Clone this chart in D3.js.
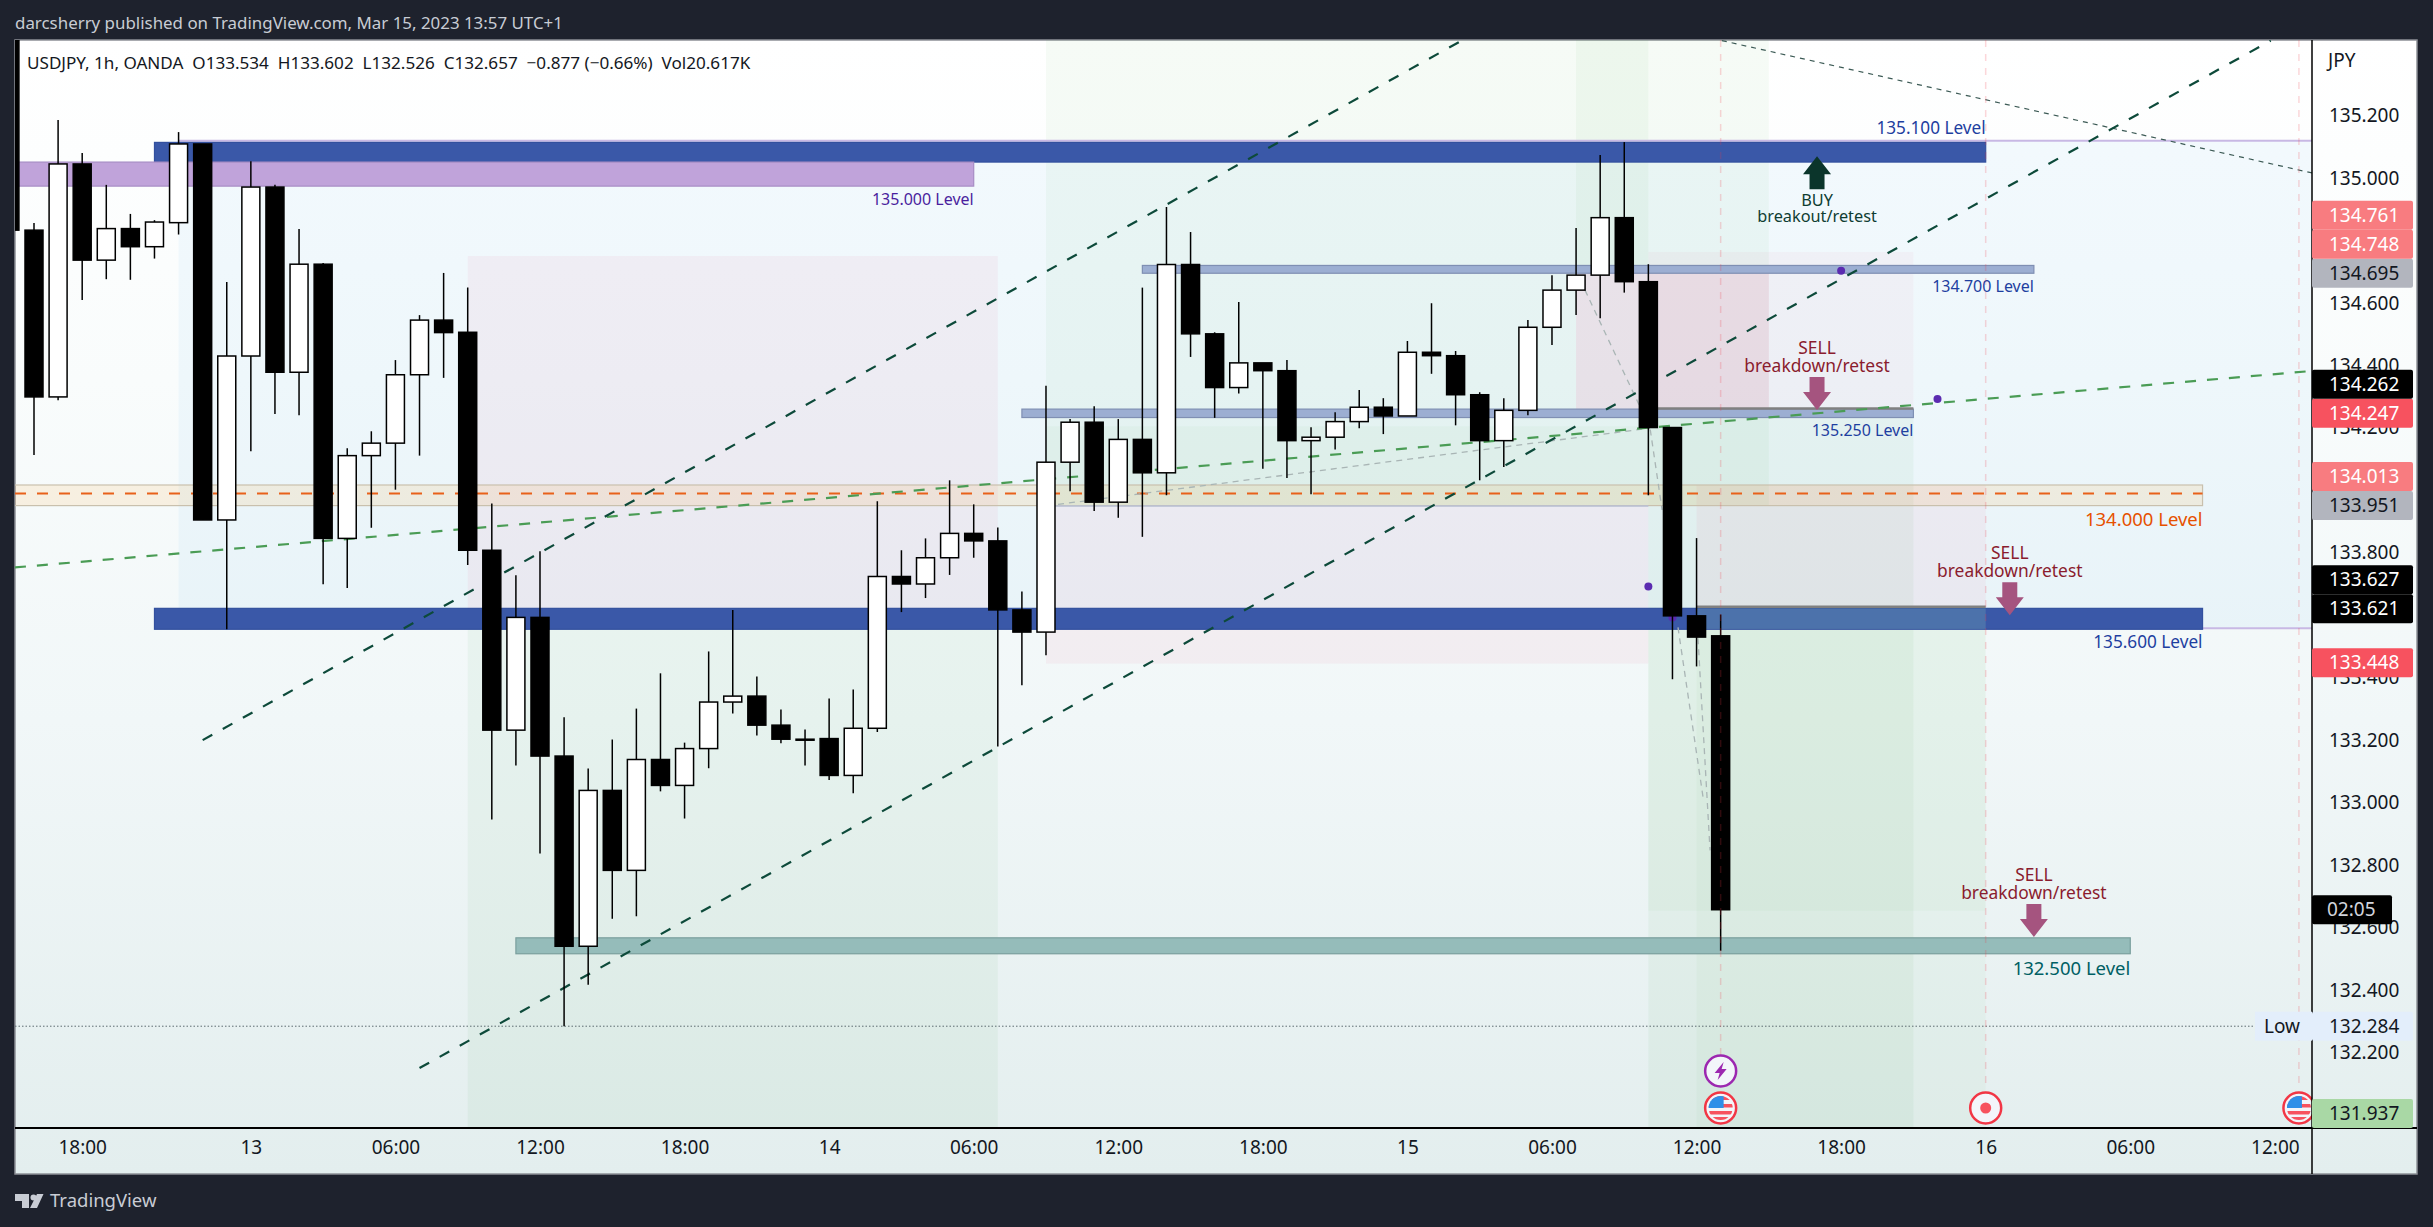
<!DOCTYPE html>
<html>
<head>
<meta charset="utf-8">
<script src="https://cdn.jsdelivr.net/npm/d3@7"></script>
<style>
  html, body { margin: 0; padding: 0; background: #1e222d; }
  text { font-family: "Noto Sans", sans-serif; }
</style>
</head>
<body>
<figure id="chart" style="margin:0"></figure>
<script>
// candles, first one is cut by the left edge of the pane
var firstBar = -1;
var opens = [135.474,134.833,134.299,135.045,134.737,134.838,134.780,134.857,135.109,133.905,134.430,134.971,134.378,134.724,133.846,134.111,134.151,134.370,134.545,134.506,133.808,133.232,133.593,133.149,132.540,133.039,132.783,133.138,133.055,133.173,133.322,133.341,133.248,133.203,133.205,133.087,133.238,133.724,133.700,133.784,133.862,133.838,133.617,133.546,134.090,134.218,133.962,134.163,134.056,134.723,134.501,134.329,134.408,134.383,134.159,134.170,134.220,134.266,134.238,134.442,134.431,134.306,134.159,134.256,134.522,134.641,134.689,134.873,134.668,134.201,133.598,133.534];
var highs = [135.474,134.856,135.186,135.080,134.978,134.885,134.865,135.147,135.109,134.667,135.054,134.978,134.837,134.728,134.135,134.189,134.417,134.561,134.696,134.649,133.958,133.728,133.805,133.273,133.109,133.202,133.301,133.414,133.192,133.484,133.617,133.404,133.298,133.234,133.333,133.362,133.965,133.808,133.846,134.032,133.955,133.881,133.676,134.335,134.228,134.269,134.228,134.649,134.907,134.827,134.506,134.603,134.408,134.417,134.202,134.250,134.321,134.295,134.478,134.599,134.446,134.314,134.295,134.545,134.689,134.840,135.074,135.115,134.724,134.201,133.847,133.602];
var lows = [134.833,134.113,134.288,134.609,134.676,134.674,134.742,134.819,133.905,133.555,134.125,134.244,134.240,133.699,133.687,133.880,134.002,134.111,134.360,133.761,132.946,133.119,132.837,132.284,132.417,132.628,132.636,133.036,132.949,133.110,133.285,133.215,133.190,133.119,133.072,133.030,133.226,133.610,133.655,133.729,133.784,133.180,133.376,133.472,133.997,133.934,133.912,133.851,133.984,134.427,134.232,134.310,134.069,134.039,133.987,134.131,134.199,134.180,134.238,134.373,134.208,134.032,134.075,134.240,134.465,134.561,134.551,134.633,133.984,133.395,133.436,132.526];
var closes = [134.833,134.299,135.045,134.737,134.838,134.780,134.859,135.109,133.905,134.430,134.971,134.378,134.724,133.846,134.111,134.151,134.370,134.545,134.505,133.808,133.232,133.593,133.149,132.540,133.039,132.783,133.138,133.055,133.173,133.322,133.341,133.248,133.203,133.202,133.087,133.238,133.724,133.700,133.784,133.862,133.838,133.617,133.546,134.090,134.218,133.962,134.163,134.056,134.723,134.501,134.329,134.408,134.383,134.159,134.170,134.220,134.266,134.238,134.442,134.431,134.306,134.159,134.256,134.522,134.641,134.689,134.873,134.668,134.201,133.598,133.530,132.657];

// axes
var priceTicks = [135.2,135.0,134.6,134.4,134.2,134.0,133.8,133.4,133.2,133.0,132.8,132.6,132.4,132.2];
var timeBars = [2,9,15,21,27,33,39,45,51,57,63,69,75,81,87,93];
var timeLabels = ["18:00","13","06:00","12:00","18:00","14","06:00","12:00","18:00","15","06:00","12:00","18:00","16","06:00","12:00"];

// tags on the price scale
var tagPrices = [134.761,134.748,134.695,134.262,134.247,134.013,133.951,133.627,133.621,133.448,132.284,131.937];

// position tool and range boxes: [bar from, bar to], [price top, price bottom]
var zoneBars = [[6,100],[18,40],[18,40],[42,72],[42,67],[42,67],[64,67],[67,78],[64,72],[67,78],[69,81],[69,81],[67,81],[69,81]];
var zonePrices = [[135.119,133.558],[134.750,133.558],[133.558,131.9],[135.5,133.952],[133.952,133.445],[134.205,133.952],[135.5,134.695],[134.763,134.263],[134.695,134.250],[134.250,131.9],[134.016,133.625],[133.625,131.9],[133.625,132.654],[133.622,133.555]];

// horizontal level bands
var bandBars = [[5,81],[-2,39],[5,90],[46,83],[41,78],[-2,90],[20,87]];
var bandPrices = [[135.114,135.051],[135.051,134.974],[133.622,133.555],[134.720,134.695],[134.260,134.233],[134.017,133.951],[132.567,132.516]];

var levelTexts = ["135.100 Level","135.000 Level","134.700 Level","135.250 Level","134.000 Level","135.600 Level","132.500 Level"];
var levelBars = [81,39,83,78,90,90,87];
var levelPrices = [135.16,134.933,134.654,134.193,133.906,133.514,132.47];

// dashed trend lines: [bar, price] pairs
var channelUpper = [[7,133.2],[59.25,135.44]];
var channelLower = [[16,132.15],[92.83,135.44]];
var greenLine = [[-0.79,133.753],[94.53,134.382]];
var thinLine = [[70.05,135.44],[94.55,135.016]];
var greyLines = [
  [[42.5,133.955],[67.07,134.199]],
  [[64.37,134.641],[67.07,134.199],[67.57,133.937]],
  [[68.23,133.561],[69.27,133.017]],
  [[69.06,133.526],[69.56,132.847]]
];
var dotBars = [75,79,67,68];
var dotPrices = [134.703,134.292,133.692,133.593];

// trade arrows
var arrowBars = [74,74,82,83];
var arrowPrices = [135.07,134.257,133.60,132.57];
var arrowKinds = ["BUY","SELL","SELL","SELL"];
var arrowNotes = ["breakout/retest","breakdown/retest","breakdown/retest","breakdown/retest"];

var eventBars = [70,81,94];

// styles, same order as the lists above
var tagFills = ["#f87c80","#f87c80","#b2b5be","#000000","#f7525f","#f87c80","#b2b5be","#000000","#000000","#f7525f","#e3eefb","#a9d8a5"];
var tagInk = ["#ffffff","#ffffff","#131722","#ffffff","#ffffff","#ffffff","#131722","#ffffff","#ffffff","#ffffff","#131722","#131722"];
var zoneFills = ["rgba(33,150,243,0.05)","rgba(233,30,99,0.05)","rgba(76,175,80,0.06)","rgba(76,175,80,0.05)","rgba(233,30,99,0.05)","rgba(76,175,80,0.04)","rgba(76,175,80,0.05)","rgba(233,30,80,0.035)","rgba(255,70,150,0.1)","rgba(76,175,80,0.06)","rgba(233,30,99,0.05)","rgba(76,175,80,0.04)","rgba(76,175,80,0.04)","rgba(130,190,180,0.25)"];
var bandFills = ["#3a58a8","#c0a3da","#3a58a8","#9caed2","#9caed2","rgba(255,152,0,0.1)","#95bcba"];
var bandEdges = ["#33509e","#a78dc4","#33509e","#7f8fb3","#7f8fb3","#c9c0ad","#7a9f9d"];
var levelColors = ["#1e3fa0","#4a1f9e","#1e3fa0","#1e3fa0","#e65100","#1e3fa0","#006064"];
var levelSizes = [17.2,16,16,16,18.5,17.2,18.5];

var W = 2433, H = 1227;
var left = 15, right = 2312, top_ = 40, bottom = 1128, frameRight = 2417, frameBottom = 1174;

var x = d3.scaleLinear().domain([0, 93]).range([34, 34 + 93 * 24.095]);
var y = d3.scaleLinear().domain([135, 132.2]).range([178, 178 + 2.8 * 312.3]);

var svg = d3.select("figure#chart").append("svg")
  .attr("width", W)
  .attr("height", H)
  .style("display", "block");

var defs = svg.append("defs");
var grad = defs.append("linearGradient").attr("id", "bg").attr("x1", 0).attr("x2", 0).attr("y1", 0).attr("y2", 1);
[[0, "#ffffff"], [0.3, "#f9fcfc"], [0.6, "#f1f7f8"], [1, "#e3eeee"]].forEach(function(s) {
  grad.append("stop").attr("offset", s[0]).attr("stop-color", s[1]);
});
defs.append("clipPath").attr("id", "pane").append("rect")
  .attr("x", left).attr("y", top_).attr("width", right - left).attr("height", bottom - top_);

// page and frame
svg.append("rect").attr("width", W).attr("height", H).attr("fill", "#1e222d");
svg.append("rect")
  .attr("x", left).attr("y", top_)
  .attr("width", frameRight - left).attr("height", frameBottom - top_)
  .attr("fill", "url(#bg)")
  .attr("stroke", "#8d9096")
  .attr("stroke-width", 1.5);

svg.append("text")
  .attr("x", 15).attr("y", 23).attr("dy", "0.35em")
  .attr("fill", "#c8ccd4").attr("font-size", 16.9)
  .text("darcsherry published on TradingView.com, Mar 15, 2023 13:57 UTC+1");

var pane = svg.append("g").attr("clip-path", "url(#pane)");

// zones under everything else
function drawZones(from, to) {
  d3.range(from, to).forEach(function(i) {
    pane.append("rect")
      .attr("x", x(zoneBars[i][0]))
      .attr("y", y(zonePrices[i][0]))
      .attr("width", x(zoneBars[i][1]) - x(zoneBars[i][0]))
      .attr("height", y(zonePrices[i][1]) - y(zonePrices[i][0]))
      .attr("fill", zoneFills[i]);
  });
}
drawZones(0, zoneBars.length - 1);

// outline of the big range box
[135.119, 133.558].forEach(function(p) {
  pane.append("line")
    .attr("x1", x(6)).attr("x2", right)
    .attr("y1", y(p)).attr("y2", y(p))
    .attr("stroke", "#c8b8e4").attr("stroke-width", 2);
});

// levels
bandBars.forEach(function(b, i) {
  pane.append("rect")
    .attr("x", x(b[0]))
    .attr("y", y(bandPrices[i][0]))
    .attr("width", x(b[1]) - x(b[0]))
    .attr("height", y(bandPrices[i][1]) - y(bandPrices[i][0]))
    .attr("fill", bandFills[i])
    .attr("stroke", bandEdges[i])
    .attr("stroke-width", 1.2);
});
drawZones(zoneBars.length - 1, zoneBars.length);

// entry lines of the position tools
[[67,78,134.262],[69,81,133.627]].forEach(function(e) {
  pane.append("line")
    .attr("x1", x(e[0])).attr("x2", x(e[1]))
    .attr("y1", y(e[2])).attr("y2", y(e[2]))
    .attr("stroke", "#808080").attr("stroke-width", 2.5);
});
pane.append("line")
  .attr("x1", x(42)).attr("x2", x(67))
  .attr("y1", y(133.95)).attr("y2", y(133.95))
  .attr("stroke", "#b9c0d6").attr("stroke-width", 1.5);

// orange level line
pane.append("line")
  .attr("x1", left).attr("x2", x(90))
  .attr("y1", y(133.99)).attr("y2", y(133.99))
  .attr("stroke", "#e8611a").attr("stroke-width", 2)
  .attr("stroke-dasharray", "11,11");

// low line
pane.append("line")
  .attr("x1", left).attr("x2", right - 58)
  .attr("y1", y(132.284)).attr("y2", y(132.284))
  .attr("stroke", "#5d6b70").attr("stroke-width", 1)
  .attr("stroke-dasharray", "1.5,2");

var line = d3.line().x(function(d) { return x(d[0]); }).y(function(d) { return y(d[1]); });

greyLines.forEach(function(l) {
  pane.append("path").attr("d", line(l)).attr("fill", "none")
    .attr("stroke", "#a9b5b5").attr("stroke-width", 1.3).attr("stroke-dasharray", "6,5");
});
pane.append("path").attr("d", line(thinLine)).attr("fill", "none")
  .attr("stroke", "#3c5a55").attr("stroke-width", 1.2).attr("stroke-dasharray", "5,5");
pane.append("path").attr("d", line(greenLine)).attr("fill", "none")
  .attr("stroke", "#4a9c55").attr("stroke-width", 2.2).attr("stroke-dasharray", "11,11");
[channelUpper, channelLower].forEach(function(l) {
  pane.append("path").attr("d", line(l)).attr("fill", "none")
    .attr("stroke", "#0d4a3a").attr("stroke-width", 2.2).attr("stroke-dasharray", "11,12");
});

dotBars.forEach(function(b, i) {
  pane.append("circle")
    .attr("cx", x(b)).attr("cy", y(dotPrices[i])).attr("r", 4)
    .attr("fill", "#5b2bb0");
});

// level captions
levelTexts.forEach(function(t, i) {
  pane.append("text")
    .attr("x", x(levelBars[i]))
    .attr("y", y(levelPrices[i]))
    .attr("dy", "0.35em")
    .attr("text-anchor", "end")
    .attr("font-size", levelSizes[i])
    .attr("fill", levelColors[i])
    .text(t);
});

// arrows with their notes
arrowBars.forEach(function(b, i) {
  var cx = x(b), tip = y(arrowPrices[i]);
  var buy = arrowKinds[i] === "BUY";
  var s = buy ? 1 : -1;
  var fs = buy ? 16.3 : 17.4;
  var pts = [[0,0],[14,s*18],[7.5,s*18],[7.5,s*33],[-7.5,s*33],[-7.5,s*18],[-14,s*18]];
  pane.append("polygon")
    .attr("points", pts.map(function(p) { return (cx + p[0]) + "," + (tip + p[1]); }).join(" "))
    .attr("fill", buy ? "#0b352b" : "#a5547f");
  var ink = buy ? "#0f3d32" : "#8a1c2e";
  pane.append("text")
    .attr("x", cx).attr("y", tip + (buy ? 44 : -62)).attr("dy", "0.35em")
    .attr("text-anchor", "middle").attr("font-size", fs).attr("fill", ink)
    .text(arrowKinds[i]);
  pane.append("text")
    .attr("x", cx).attr("y", tip + (buy ? 60 : -44)).attr("dy", "0.35em")
    .attr("text-anchor", "middle").attr("font-size", fs).attr("fill", ink)
    .text(arrowNotes[i]);
});

// candles
var candles = pane.append("g")
  .selectAll("g")
  .data(opens.map(function(o, i) { return {i: i + firstBar, o: o, h: highs[i], l: lows[i], c: closes[i]}; }))
  .enter().append("g");

candles.append("line")
  .attr("x1", function(d) { return x(d.i); })
  .attr("x2", function(d) { return x(d.i); })
  .attr("y1", function(d) { return y(d.h); })
  .attr("y2", function(d) { return y(d.l); })
  .attr("stroke", "#000")
  .attr("stroke-width", 1.5);

candles.append("rect")
  .attr("x", function(d) { return x(d.i) - 9; })
  .attr("width", 18)
  .attr("y", function(d) { return y(Math.max(d.o, d.c)); })
  .attr("height", function(d) { return Math.max(1, Math.abs(y(d.o) - y(d.c))); })
  .attr("fill", function(d) { return d.c >= d.o ? "#fff" : "#000"; })
  .attr("stroke", "#000")
  .attr("stroke-width", 1.5);

// event lines sit over the candles
eventBars.forEach(function(b) {
  pane.append("line")
    .attr("x1", x(b)).attr("x2", x(b))
    .attr("y1", top_).attr("y2", 1090)
    .attr("stroke", "#f23645").attr("stroke-opacity", 0.2)
    .attr("stroke-width", 1.5).attr("stroke-dasharray", "7,7");
});

// event badges
function badge(cx, cy, stroke) {
  var g = pane.append("g").attr("transform", "translate(" + cx + "," + cy + ")");
  g.append("circle").attr("r", 15.5).attr("fill", "#f3f5fa").attr("stroke", stroke).attr("stroke-width", 2.5);
  return g;
}
var flash = badge(x(70), 1071, "#9c27b0");
flash.append("path").attr("d", "M3,-9 L-6,2 L-1,2 L-3,9 L6,-2 L1,-2 Z").attr("fill", "#9c27b0");

function flag(cx) {
  var g = badge(cx, 1108, "#f23645");
  var id = "flag" + Math.round(cx);
  defs.append("clipPath").attr("id", id).append("circle").attr("r", 12);
  var f = g.append("g").attr("clip-path", "url(#" + id + ")");
  [-4, 3, 9].forEach(function(s) {
    f.append("rect").attr("x", -13).attr("y", s).attr("width", 26).attr("height", 3.5).attr("fill", "#f7525f");
  });
  f.append("rect").attr("x", -13).attr("y", -13).attr("width", 26).attr("height", 5).attr("fill", "#f7525f");
  f.append("rect").attr("x", -13).attr("y", -13).attr("width", 16).attr("height", 13).attr("fill", "#2f8fe8");
}
flag(x(70));
flag(x(94));
var rec = badge(x(81), 1108, "#f23645");
rec.append("circle").attr("r", 5.5).attr("fill", "#f7525f");

// time axis
var xAxis = svg.append("g")
  .attr("transform", "translate(0," + bottom + ")")
  .call(d3.axisBottom(x)
    .tickValues(timeBars)
    .tickSize(0)
    .tickPadding(13)
    .tickFormat(function(d, i) { return timeLabels[i]; }));
xAxis.select(".domain").remove();
xAxis.selectAll("text").attr("font-size", 19).attr("font-family", null).attr("fill", "#131722");

// price axis
var yAxis = svg.append("g")
  .attr("transform", "translate(" + right + ",0)")
  .call(d3.axisRight(y)
    .tickValues(priceTicks)
    .tickSize(0)
    .tickPadding(17)
    .tickFormat(d3.format(".3f")));
yAxis.select(".domain").remove();
yAxis.selectAll("text").attr("font-size", 19).attr("font-family", null).attr("fill", "#131722");

svg.append("line").attr("x1", left).attr("x2", frameRight).attr("y1", bottom).attr("y2", bottom)
  .attr("stroke", "#000").attr("stroke-width", 2);
svg.append("line").attr("x1", right).attr("x2", right).attr("y1", top_).attr("y2", frameBottom)
  .attr("stroke", "#000").attr("stroke-width", 1.5);

svg.append("text")
  .attr("x", right + 16).attr("y", 60).attr("dy", "0.35em")
  .attr("font-size", 19).attr("fill", "#131722").text("JPY");

// price tags, pushed up when they would overlap, bottom one first
var tagH = 29;
var prev = bottom + tagH / 2;
d3.range(tagPrices.length).reverse().forEach(function(i) {
  var c = Math.min(y(tagPrices[i]), prev - tagH);
  prev = c;
  var g = svg.append("g").attr("transform", "translate(" + right + "," + c + ")");
  g.append("rect")
    .attr("x", 0).attr("y", -tagH / 2)
    .attr("width", 101).attr("height", tagH)
    .attr("rx", 2)
    .attr("fill", tagFills[i]);
  g.append("text")
    .attr("x", 17).attr("dy", "0.35em")
    .attr("font-size", 19).attr("fill", tagInk[i])
    .text(d3.format(".3f")(tagPrices[i]));
});

// countdown under the last price
var clock = svg.append("g").attr("transform", "translate(" + right + "," + y(closes[closes.length - 1]) + ")");
clock.append("rect").attr("y", -14.5).attr("width", 80).attr("height", 29).attr("rx", 2).attr("fill", "#000");
clock.append("text").attr("x", 15).attr("dy", "0.35em").attr("font-size", 19).attr("fill", "#d1d4dc").text("02:05");

// low tag caption
svg.append("rect").attr("x", right - 57).attr("y", y(132.284) - 14.5).attr("width", 57).attr("height", 29).attr("fill", "#e3eefb");
svg.append("text").attr("x", right - 12).attr("y", y(132.284)).attr("dy", "0.35em")
  .attr("text-anchor", "end").attr("font-size", 19).attr("fill", "#131722").text("Low");

// legend
svg.append("text")
  .attr("x", 27).attr("y", 63).attr("dy", "0.35em")
  .attr("font-size", 17.1).attr("fill", "#131722")
  .attr("xml:space", "preserve")
  .style("white-space", "pre")
  .text("USDJPY, 1h, OANDA  O133.534  H133.602  L132.526  C132.657  \u22120.877 (\u22120.66%)  Vol20.617K");

// footer logo
svg.append("path")
  .attr("d", "M15,1194 H29 V1208 H22 V1201 H15 Z M37,1194 H43.5 L37,1208 H30 Z")
  .attr("fill", "#c8ccd4");
svg.append("circle").attr("cx", 33.5).attr("cy", 1197.5).attr("r", 3).attr("fill", "#c8ccd4");
svg.append("text")
  .attr("x", 50).attr("y", 1201).attr("dy", "0.35em")
  .attr("font-size", 18.5).attr("fill", "#c8ccd4").text("TradingView");
</script>
</body>
</html>
